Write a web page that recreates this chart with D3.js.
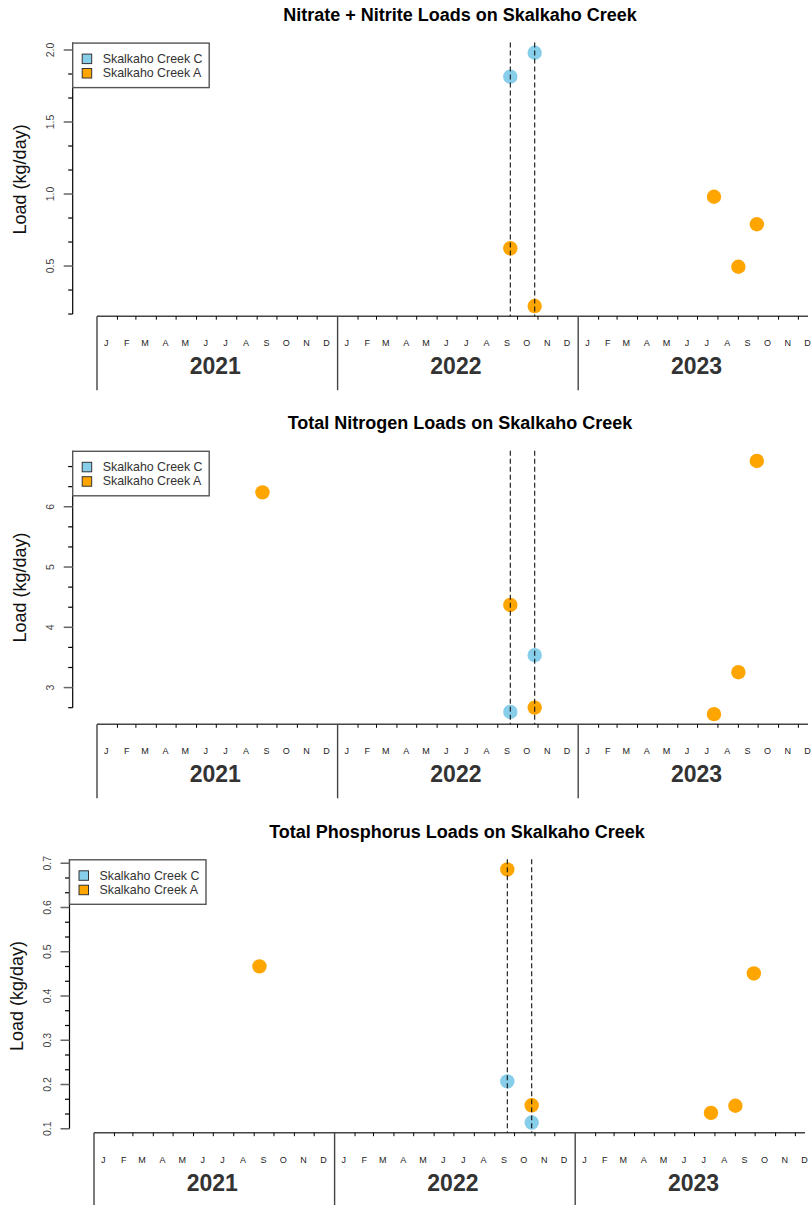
<!DOCTYPE html>
<html>
<head>
<meta charset="utf-8">
<script src="https://cdn.jsdelivr.net/npm/d3@7"></script>
<style>
  html, body { margin: 0; padding: 0; background: #fff; }
  svg { display: block; font-family: "Liberation Sans", Arial, sans-serif; }
</style>
</head>
<body>
<svg id="chart" width="812" height="1205"></svg>
<script>
// ---- data ----------------------------------------------------------------
const monthLetters = ["J", "F", "M", "A", "M", "J", "J", "A", "S", "O", "N", "D"];
const years = [2021, 2022, 2023];
const seriesNames = ["Skalkaho Creek C", "Skalkaho Creek A"];
const seriesColors = ["#87CEEB", "#FFA500"];
// sampling dates flagged with dashed reference lines
const markerDates = ["2022-09-20", "2022-10-27"];

// Nitrate + Nitrite loads (kg/day)
const nitrateC = [["2022-09-20", 1.815], ["2022-10-27", 1.981]];
const nitrateA = [["2022-09-20", 0.623], ["2022-10-27", 0.222], ["2023-07-26", 0.981],
                  ["2023-09-01", 0.495], ["2023-09-29", 0.790]];
const nitrateTicks = [0.5, 1.0, 1.5, 2.0];

// Total nitrogen loads (kg/day)
const nitrogenC = [["2022-09-20", 2.597], ["2022-10-27", 3.537]];
const nitrogenA = [["2021-09-09", 6.239], ["2022-09-20", 4.371], ["2022-10-27", 2.668],
                   ["2023-07-26", 2.559], ["2023-09-01", 3.255], ["2023-09-29", 6.76]];
const nitrogenTicks = [3, 4, 5, 6];

// Total phosphorus loads (kg/day)
const phosphorusC = [["2022-09-20", 0.207], ["2022-10-27", 0.114]];
const phosphorusA = [["2021-09-09", 0.467], ["2022-09-20", 0.686], ["2022-10-27", 0.153],
                     ["2023-07-26", 0.136], ["2023-09-01", 0.152], ["2023-09-29", 0.451]];
const phosphorusTicks = [0.1, 0.2, 0.3, 0.4, 0.5, 0.6, 0.7];

const panels = [
  { title: "Nitrate + Nitrite Loads on Skalkaho Creek", series: [nitrateC, nitrateA],
    ticks: nitrateTicks, fmt: d3.format(".1f"),
    top: 42.6, bottom: 316.2, axisX: 72.7, xStart: 97, xEnd: 808, titleY: 20.7 },
  { title: "Total Nitrogen Loads on Skalkaho Creek", series: [nitrogenC, nitrogenA],
    ticks: nitrogenTicks, fmt: d3.format("d"),
    top: 450.8, bottom: 724.3, axisX: 72.7, xStart: 97, xEnd: 808, titleY: 429.3 },
  { title: "Total Phosphorus Loads on Skalkaho Creek", series: [phosphorusC, phosphorusA],
    ticks: phosphorusTicks, fmt: d3.format(".1f"),
    top: 859.3, bottom: 1132.7, axisX: 69.5, xStart: 94, xEnd: 805, titleY: 837.7 }
];

const parse = d3.utcParse("%Y-%m-%d");
const svg = d3.select("#chart");

panels.forEach(p => {
  const g = svg.append("g");

  // time scale: three calendar years laid out along the bottom
  const x = d3.scaleUtc()
    .domain([Date.UTC(years[0], 0, 1), Date.UTC(years[years.length - 1] + 1, 0, 1)])
    .range([p.xStart, p.xStart + 721.8]);

  // y scale: data extent padded by 4% on each side
  const allVals = p.series.flat().map(d => d[1]);
  const [lo, hi] = d3.extent(allVals);
  const pad = (hi - lo) * 0.04;
  const y = d3.scaleLinear().domain([lo - pad, hi + pad]).range([p.bottom, p.top]);

  // title
  g.append("text")
    .attr("x", p.xStart + 363).attr("y", p.titleY)
    .attr("text-anchor", "middle")
    .attr("font-size", 18).attr("font-weight", "bold").attr("fill", "#000")
    .text(p.title);

  // y axis title
  g.append("text")
    .attr("transform", `translate(${p.axisX - 52.5},${(p.top + p.bottom) / 2}) rotate(-90)`)
    .attr("text-anchor", "middle").attr("dominant-baseline", "central")
    .attr("font-size", 18).attr("fill", "#111")
    .text("Load (kg/day)");

  // minor ticks: two between each pair of labelled ticks, extended past the ends
  const step = p.ticks[1] - p.ticks[0];
  const minor = [];
  for (let k = -3; k <= p.ticks.length * 3 + 3; k++) {
    const v = p.ticks[0] + k * step / 3;
    if (k % 3 !== 0 && v >= y.domain()[0] && v <= y.domain()[1]) minor.push(v);
  }
  const allTicks = minor.concat(p.ticks);
  const lowest = d3.min(allTicks);

  g.append("line")
    .attr("x1", p.axisX).attr("x2", p.axisX)
    .attr("y1", p.top).attr("y2", y(lowest))
    .attr("stroke", "#000").attr("stroke-width", 1.2);

  g.selectAll(".minor").data(minor).join("line")
    .attr("x1", p.axisX - 4.5).attr("x2", p.axisX)
    .attr("y1", d => y(d)).attr("y2", d => y(d))
    .attr("stroke", "#000").attr("stroke-width", 1.2);

  g.selectAll(".major").data(p.ticks).join("line")
    .attr("x1", p.axisX - 9).attr("x2", p.axisX)
    .attr("y1", d => y(d)).attr("y2", d => y(d))
    .attr("stroke", "#666").attr("stroke-width", 1.5);

  g.selectAll(".ylab").data(p.ticks).join("text")
    .attr("transform", d => `translate(${p.axisX - 22.5},${y(d)}) rotate(-90)`)
    .attr("text-anchor", "middle").attr("dominant-baseline", "central")
    .attr("font-size", 10.5).attr("fill", "#444")
    .text(d => p.fmt(d));

  // bottom calendar axis
  g.append("line")
    .attr("x1", x.range()[0]).attr("x2", p.xEnd)
    .attr("y1", p.bottom).attr("y2", p.bottom)
    .attr("stroke", "#444").attr("stroke-width", 1.4);

  const monthStarts = d3.utcMonth.range(x.domain()[0], x.domain()[1])
    .filter(d => d.getUTCMonth() !== 0);
  g.selectAll(".mtick").data(monthStarts).join("line")
    .attr("x1", d => x(d)).attr("x2", d => x(d))
    .attr("y1", p.bottom).attr("y2", p.bottom + 3.5)
    .attr("stroke", "#000").attr("stroke-width", 1);

  const monthMids = d3.utcMonth.range(x.domain()[0], x.domain()[1])
    .map(d => new Date(Date.UTC(d.getUTCFullYear(), d.getUTCMonth(), 15)));
  g.selectAll(".mlab").data(monthMids).join("text")
    .attr("x", d => x(d)).attr("y", p.bottom + 29.8)
    .attr("text-anchor", "middle")
    .attr("font-size", 9).attr("fill", "#222")
    .text(d => monthLetters[d.getUTCMonth()]);

  g.selectAll(".ysep").data(years).join("line")
    .attr("x1", d => x(Date.UTC(d, 0, 1))).attr("x2", d => x(Date.UTC(d, 0, 1)))
    .attr("y1", p.bottom).attr("y2", p.bottom + 74)
    .attr("stroke", "#444").attr("stroke-width", 1.4);

  g.selectAll(".ylabYear").data(years).join("text")
    .attr("x", d => (x(Date.UTC(d, 0, 1)) + x(Date.UTC(d + 1, 0, 1))) / 2 - 2)
    .attr("y", p.bottom + 58)
    .attr("text-anchor", "middle")
    .attr("font-size", 23).attr("font-weight", "bold").attr("fill", "#333")
    .text(d => d);

  // points
  p.series.forEach((s, i) => {
    g.selectAll(".pt" + i).data(s).join("circle")
      .attr("cx", d => x(parse(d[0]))).attr("cy", d => y(d[1]))
      .attr("r", 7.2).attr("fill", seriesColors[i]);
  });

  // dashed reference lines
  g.selectAll(".ref").data(markerDates).join("line")
    .attr("x1", d => x(parse(d))).attr("x2", d => x(parse(d)))
    .attr("y1", p.top).attr("y2", p.bottom)
    .attr("stroke", "#111").attr("stroke-width", 1.1)
    .attr("stroke-dasharray", "5,3");

  // legend
  const lg = g.append("g").attr("transform", `translate(${p.axisX},${p.top + 0.5})`);
  lg.append("rect")
    .attr("x", 0).attr("y", 0).attr("width", 136.5).attr("height", 44.5)
    .attr("fill", "#fff").attr("stroke", "#555").attr("stroke-width", 1.4);
  seriesNames.forEach((name, i) => {
    lg.append("rect")
      .attr("x", 9.5).attr("y", 11 + i * 14.4).attr("width", 9.5).attr("height", 9.5)
      .attr("fill", seriesColors[i]).attr("stroke", "#333").attr("stroke-width", 1);
    lg.append("text")
      .attr("x", 30).attr("y", 15.8 + i * 14.4)
      .attr("dominant-baseline", "central")
      .attr("font-size", 12.4).attr("fill", "#333")
      .text(name);
  });
});
</script>
</body>
</html>
